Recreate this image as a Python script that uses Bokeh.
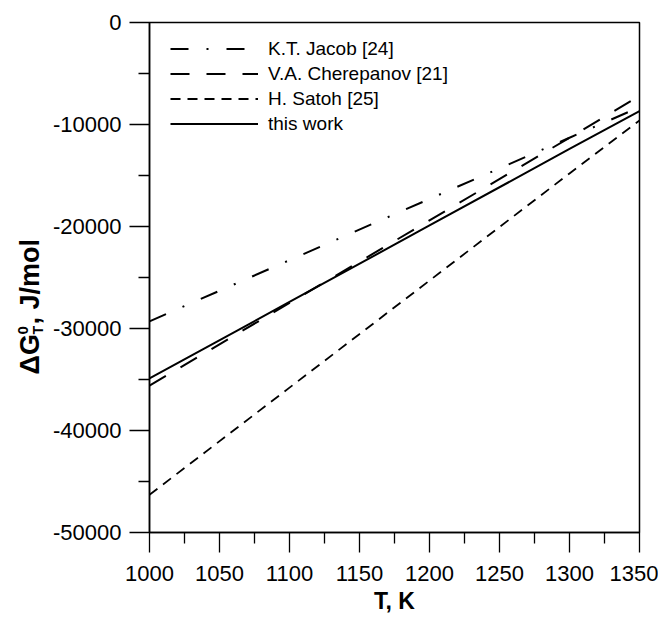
import math
from bokeh.plotting import figure
from bokeh.layouts import row
from bokeh.models import (Range1d, FixedTicker, Legend, LegendItem, ColumnDataSource)
from bokeh.core.properties import value
from bokeh.embed import file_html
from bokeh.resources import INLINE

# ---- data ----
T = [1000, 1100, 1200, 1300, 1350]
jacob = [-29300, -23300, -17300, -11300, -8300]
cherepanov = [-35600, -27500, -19400, -11300, -7200]
satoh = [-46300, -35800, -25300, -14800, -9600]
this_work = [-34900, -27400, -19900, -12400, -8700]

labels = ["K.T. Jacob [24]", "V.A. Cherepanov [21]", "H. Satoh [25]", "this work"]
x_ticks = [1000, 1050, 1100, 1150, 1200, 1250, 1300, 1350]
x_minor = [1025, 1075, 1125, 1175, 1225, 1275, 1325]
y_ticks = [0, -10000, -20000, -30000, -40000, -50000]
y_tick_text = ["0", "-10000", "-20000", "-30000", "-40000", "-50000"]
y_minor = [-5000, -15000, -25000, -35000, -45000]

FONT = "Liberation Sans"
H = 616
TW = 44  # width of the strip holding the rotated y-axis title

p = figure(width=658 - TW, height=H, output_backend="svg", toolbar_location=None,
           x_range=Range1d(1000, 1350), y_range=Range1d(-50000, 0),
           min_border_left=149 - TW, min_border_right=19, min_border_top=22, min_border_bottom=82)
p.background_fill_color = "white"
p.border_fill_color = "white"
p.outline_line_color = "black"
p.outline_line_width = 1.5
p.xgrid.visible = False
p.ygrid.visible = False

src = ColumnDataSource(dict(T=T, jacob=jacob, cher=cherepanov, satoh=satoh, tw=this_work))
r1 = p.line("T", "jacob", source=src, line_color="black", line_width=2, line_dash="18 18 2 18")
r2 = p.line("T", "cher", source=src, line_color="black", line_width=2, line_dash="19 17")
r3 = p.line("T", "satoh", source=src, line_color="black", line_width=1.8, line_dash="10 7")
r4 = p.line("T", "tw", source=src, line_color="black", line_width=2)

# axes
for ax in (p.xaxis[0], p.yaxis[0]):
    ax.axis_line_color = "black"
    ax.axis_line_width = 1.5
    ax.major_tick_line_color = "black"
    ax.minor_tick_line_color = "black"
    ax.major_tick_line_width = 1.3
    ax.minor_tick_line_width = 1.3
    ax.major_tick_in = 0
    ax.major_tick_out = 20
    ax.minor_tick_in = 0
    ax.minor_tick_out = 11
    ax.major_label_text_font = FONT
    ax.major_label_text_font_size = "22px"
    ax.major_label_text_color = "black"
    ax.major_label_standoff = 8

p.xaxis[0].ticker = FixedTicker(ticks=x_ticks, minor_ticks=x_minor)
p.yaxis[0].ticker = FixedTicker(ticks=y_ticks, minor_ticks=y_minor)
p.yaxis[0].major_label_overrides = {v: t for v, t in zip(y_ticks, y_tick_text)}
p.xaxis[0].major_label_standoff = 13

p.xaxis[0].axis_label = "T, K"
p.xaxis[0].axis_label_text_font = FONT
p.xaxis[0].axis_label_text_font_size = "23px"
p.xaxis[0].axis_label_text_font_style = "bold"
p.xaxis[0].axis_label_text_color = "black"
p.xaxis[0].axis_label_standoff = 4

legend = Legend(items=[LegendItem(label=labels[0], renderers=[r1]),
                       LegendItem(label=labels[1], renderers=[r2]),
                       LegendItem(label=labels[2], renderers=[r3]),
                       LegendItem(label=labels[3], renderers=[r4])],
                location=(21, 397), padding=5, margin=0, spacing=2,
                glyph_width=88, glyph_height=23, label_height=23, label_standoff=10,
                label_text_font=FONT, label_text_font_size="19px", label_text_color="black",
                border_line_color=None, background_fill_alpha=0)
p.add_layout(legend)

# ---- strip with the rotated y-axis title: ΔG^0_T, J/mol ----
pt = figure(frame_width=TW, frame_height=H, output_backend="svg", toolbar_location=None,
            x_range=Range1d(0, TW), y_range=Range1d(0, H),
            min_border_left=0, min_border_right=0, min_border_top=0, min_border_bottom=0)
pt.axis.visible = False
pt.grid.visible = False
pt.outline_line_color = None
pt.background_fill_color = "white"
pt.border_fill_color = "white"

ang = math.pi / 2
title_parts = [  # text, x (baseline), y from top (start), size
    ("\u0394G", 29, 352, "27px"),
    ("0", 22, 312, "15px"),
    ("T", 37, 312, "14px"),
    (", J/mol", 29, 302, "27px"),
]
for txt, xs, ys, fs in title_parts:
    pt.text(x=[xs], y=[H - ys], text=[txt], angle=ang,
            text_font=value(FONT), text_font_size=value(fs), text_font_style="bold",
            text_color="black", text_align="left", text_baseline="alphabetic")

layout = row(pt, p)
open("out.html", "w").write(file_html(layout, INLINE))
